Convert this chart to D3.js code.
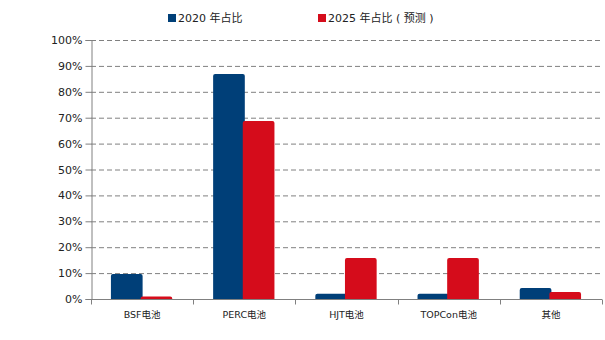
<!DOCTYPE html>
<html><head><meta charset="utf-8">
<script src="https://cdn.jsdelivr.net/npm/d3@7"></script>
<style>body{margin:0;background:#fff;}text{font-family:"DejaVu Sans","Noto Sans CJK SC",sans-serif;}</style>
</head><body><svg id="c" width="605" height="340"></svg>
<script>
const categories = ["BSF电池","PERC电池","HJT电池","TOPCon电池","其他"];
const series2020 = [9.7, 86.9, 2.0, 2.0, 4.2];
const series2025 = [1.0, 68.7, 15.8, 15.8, 2.7];
const seriesNames = ["2020 年占比","2025 年占比 ( 预测 )"];
const yTicks = [0,10,20,30,40,50,60,70,80,90,100];
const colors = ["#003f78","#d50c1b"];

(function(){
const svg = d3.select("#c");
const pLeft = 91, pRight = 602, pTop = 40, pBottom = 299;
const x = d3.scaleBand().domain(categories).range([pLeft, pRight]);
const y = d3.scaleLinear().domain([0,100]).range([pBottom, pTop]);

// grid
svg.append("g").selectAll("line").data(yTicks.filter(d=>d>0)).join("line")
  .attr("x1", pLeft).attr("x2", pRight).attr("y1", d=>y(d)+0.5).attr("y2", d=>y(d)+0.5)
  .attr("stroke","#808080").attr("stroke-width",1).attr("stroke-dasharray","5,3");

// y axis
const ya = svg.append("g").attr("transform",`translate(${pLeft+0.5},0)`)
  .call(d3.axisLeft(y).tickValues(yTicks).tickFormat(d=>d+"%").tickSize(6).tickPadding(3));
ya.select(".domain").attr("stroke","#808080");
ya.selectAll(".tick line").attr("stroke","#808080");
ya.selectAll("text").attr("font-size","11px").attr("fill","#222").style("font-family","DejaVu Sans");

// bars
const bw = x.bandwidth();
const barW = bw*0.31;
const groups = categories.map((c,i)=>({c, v:[series2020[i], series2025[i]]}));
function barPath(x0, w, y0, y1, r){
  r = Math.min(r, (y1-y0), w/2);
  return `M${x0},${y1}V${y0+r}Q${x0},${y0} ${x0+r},${y0}H${x0+w-r}Q${x0+w},${y0} ${x0+w},${y0+r}V${y1}Z`;
}
[0,1].forEach(s=>{
  svg.append("g").selectAll("path").data(groups).join("path")
    .attr("d", d=>{
      const x0 = x(d.c) + bw*0.195 + s*bw*0.29;
      return barPath(x0, barW, y(d.v[s]), y(0), 2);
    })
    .attr("fill", colors[s]);
});

// x axis
const xa = svg.append("g").attr("transform",`translate(0,${pBottom+0.5})`);
xa.append("line").attr("x1",pLeft).attr("x2",pRight).attr("stroke","#808080");
const bounds = categories.map(c=>x(c)).concat([pRight]);
xa.selectAll("line.t").data(bounds).join("line").attr("class","t")
  .attr("x1",d=>Math.round(d)+0.5).attr("x2",d=>Math.round(d)+0.5).attr("y1",0).attr("y2",5).attr("stroke","#808080");
xa.selectAll("text").data(categories).join("text")
  .attr("x", d=>x(d)+bw/2).attr("y", 18).attr("text-anchor","middle")
  .attr("font-size","9.5px").attr("fill","#222").text(d=>d);

// legend
const lg = svg.append("g");
const lx = [168, 318];
seriesNames.forEach((n,i)=>{
  lg.append("rect").attr("x",lx[i]).attr("y",14).attr("width",8).attr("height",8).attr("fill",colors[i]);
  lg.append("text").attr("x",lx[i]+10).attr("y",22).attr("font-size","11px").attr("fill","#222").text(n);
});
})();
</script></body></html>
